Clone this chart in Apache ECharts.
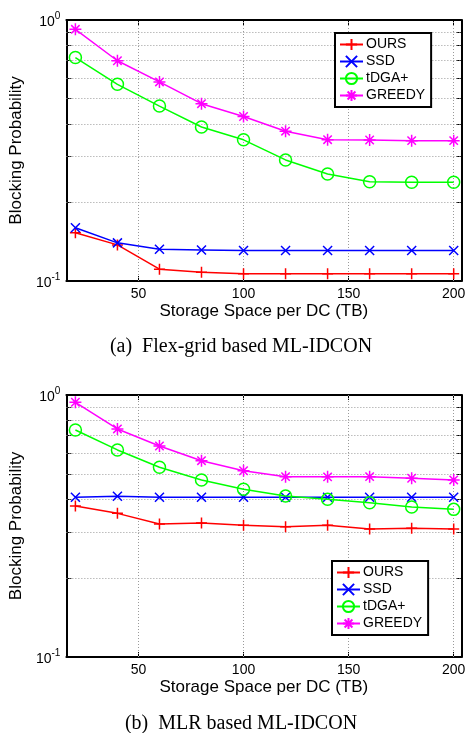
<!DOCTYPE html>
<html><head><meta charset="utf-8">
<script src="https://cdn.jsdelivr.net/npm/echarts@6/dist/echarts.min.js"></script>
<style>html,body{margin:0;padding:0;background:#fff}#c{width:468px;height:733px}</style>
</head><body><div id="c"></div><script>
// ---- data ----
const storage = [20, 40, 60, 80, 100, 120, 140, 160, 180, 200];
const seriesNames = ['OURS', 'SSD', 'tDGA+', 'GREEDY'];
const flexOURS   = [0.153, 0.1375, 0.111, 0.108, 0.1067, 0.1067, 0.1067, 0.1067, 0.1067, 0.1067];
const flexSSD    = [0.160, 0.140, 0.1323, 0.1315, 0.1308, 0.1308, 0.1308, 0.1308, 0.1308, 0.1308];
const flexTDGA   = [0.718, 0.567, 0.468, 0.389, 0.3475, 0.291, 0.257, 0.240, 0.239, 0.239];
const flexGREEDY = [0.921, 0.698, 0.579, 0.478, 0.427, 0.375, 0.348, 0.347, 0.345, 0.345];
const mlrOURS    = [0.377, 0.3534, 0.322, 0.3248, 0.318, 0.3144, 0.318, 0.308, 0.310, 0.308];
const mlrSSD     = [0.4068, 0.4104, 0.4068, 0.4068, 0.4068, 0.4068, 0.4068, 0.4068, 0.4068, 0.4068];
const mlrTDGA    = [0.735, 0.617, 0.530, 0.474, 0.4365, 0.4116, 0.3997, 0.388, 0.3737, 0.366];
const mlrGREEDY  = [0.938, 0.742, 0.639, 0.5614, 0.514, 0.488, 0.487, 0.488, 0.481, 0.474];
const xTickValues = [50, 100, 150, 200];
const yMinorValues = [0.2, 0.3, 0.4, 0.5, 0.6, 0.7, 0.8, 0.9];
const xAxisTitle = 'Storage Space per DC (TB)';
const yAxisTitle = 'Blocking Probability';
const captions = ['(a)  Flex-grid based ML-IDCON', '(b)  MLR based ML-IDCON'];

// ---- styles ----
const SANS = 'Liberation Sans, Arial, sans-serif';
const SERIF = 'Liberation Serif, Times New Roman, serif';
const styles = {
  'OURS':   {color: '#ff0000', symbol: 'path://M0,5L10,5M5,0L5,10', size: 11},
  'SSD':    {color: '#0000ff', symbol: 'path://M0,0L10,10M0,10L10,0', size: 9},
  'tDGA+':  {color: '#00ff00', symbol: 'circle', size: 12},
  'GREEDY': {color: '#ff00ff', symbol: 'path://M0,5L10,5M5,0L5,10M1.5,1.5L8.5,8.5M1.5,8.5L8.5,1.5', size: 12}
};
const X_MIN = 15.7, X_MAX = 203.6;
const grids = [
  {left: 47, top: 20, width: 416, height: 261},
  {left: 47, top: 395, width: 416, height: 262}
];

function mkSeries(name, vals, gi, idx) {
  const s = styles[name];
  const out = {
    name: name, type: 'line', xAxisIndex: gi * 2, yAxisIndex: gi * 2,
    data: storage.map((x, i) => [x, vals[i]]),
    symbol: s.symbol, symbolSize: s.size, showSymbol: true,
    lineStyle: {color: s.color, width: 1.5},
    itemStyle: {color: 'rgba(0,0,0,0)', borderColor: s.color, borderWidth: 1.5},
    emphasis: {disabled: true}, animation: false, z: 3 + idx, clip: false
  };
  if (idx === 0) {
    out.markLine = {
      silent: true, symbol: 'none', animation: false, z: 1,
      label: {show: false},
      lineStyle: {color: '#9a9a9a', type: [1, 2], width: 1},
      emphasis: {disabled: true},
      data: yMinorValues.map(v => ({yAxis: v})).concat(xTickValues.map(v => ({xAxis: v})))
    };
  }
  return out;
}

const axisLineStyle = {show: true, lineStyle: {color: '#000', width: 2}};
function xAxes(gi) {
  return [
    {type: 'value', gridIndex: gi, position: 'bottom', min: X_MIN, max: X_MAX,
     axisLine: axisLineStyle,
     axisTick: {show: true, inside: true, length: 5, customValues: xTickValues, lineStyle: {color: '#000'}},
     axisLabel: {show: true, customValues: xTickValues, margin: 6, color: '#000', fontSize: 14, fontFamily: SANS},
     splitLine: {show: false},
     name: xAxisTitle, nameLocation: 'middle', nameGap: 22,
     nameTextStyle: {color: '#000', fontSize: 17, fontFamily: SANS}},
    {type: 'value', gridIndex: gi, position: 'top', min: X_MIN, max: X_MAX,
     axisLine: axisLineStyle,
     axisTick: {show: true, inside: true, length: 5, customValues: xTickValues, lineStyle: {color: '#000'}},
     axisLabel: {show: false}, splitLine: {show: false}}
  ];
}
function yAxes(gi) {
  return [
    {type: 'log', logBase: 10, gridIndex: gi, position: 'left', min: 0.1, max: 1,
     axisLine: axisLineStyle,
     axisTick: {show: true, inside: true, length: 5, customValues: yMinorValues, lineStyle: {color: '#000'}},
     axisLabel: {show: true, margin: 6, color: '#000',
       formatter: function (v) { const e = Math.round(Math.log10(v)); return '{b|10}{s|' + e + '}'; },
       rich: {
         b: {fontSize: 14, fontFamily: SANS, color: '#000', verticalAlign: 'bottom', lineHeight: 18},
         s: {fontSize: 10, fontFamily: SANS, color: '#000', verticalAlign: 'top', lineHeight: 10}
       }},
     splitLine: {show: false},
     name: yAxisTitle, nameLocation: 'middle', nameGap: 21,
     nameTextStyle: {color: '#000', fontSize: 17, fontFamily: SANS}},
    {type: 'log', logBase: 10, gridIndex: gi, position: 'right', min: 0.1, max: 1,
     axisLine: axisLineStyle,
     axisTick: {show: true, inside: true, length: 5, customValues: yMinorValues, lineStyle: {color: '#000'}},
     axisLabel: {show: false}, splitLine: {show: false}}
  ];
}

const legendBase = {
  orient: 'vertical', data: seriesNames, backgroundColor: '#fff',
  borderColor: '#000', borderWidth: 2, borderRadius: 0,
  padding: [3, 6, 3, 4], itemGap: 0, itemWidth: 23, itemHeight: 14,
  textStyle: {fontSize: 14, fontFamily: SANS, color: '#000', lineHeight: 17, padding: [0, 0, 0, -2]},
  selectedMode: false, z: 10
};

const chart = echarts.init(document.getElementById('c'), null, {renderer: 'canvas'});
chart.setOption({
  animation: false,
  backgroundColor: '#fff',
  grid: grids,
  xAxis: xAxes(0).concat(xAxes(1)),
  yAxis: yAxes(0).concat(yAxes(1)),
  legend: [
    Object.assign({}, legendBase, {left: 335, top: 33}),
    Object.assign({}, legendBase, {left: 332, top: 561})
  ],
  series: [
    mkSeries('OURS', flexOURS, 0, 0), mkSeries('SSD', flexSSD, 0, 1),
    mkSeries('tDGA+', flexTDGA, 0, 2), mkSeries('GREEDY', flexGREEDY, 0, 3),
    mkSeries('OURS', mlrOURS, 1, 0), mkSeries('SSD', mlrSSD, 1, 1),
    mkSeries('tDGA+', mlrTDGA, 1, 2), mkSeries('GREEDY', mlrGREEDY, 1, 3)
  ],
  graphic: [
    {type: 'text', x: 241, y: 347, style: {text: captions[0], font: '20px ' + SERIF, fill: '#000', align: 'center', verticalAlign: 'middle'}},
    {type: 'text', x: 241, y: 724, style: {text: captions[1], font: '20px ' + SERIF, fill: '#000', align: 'center', verticalAlign: 'middle'}}
  ]
});
</script></body></html>
